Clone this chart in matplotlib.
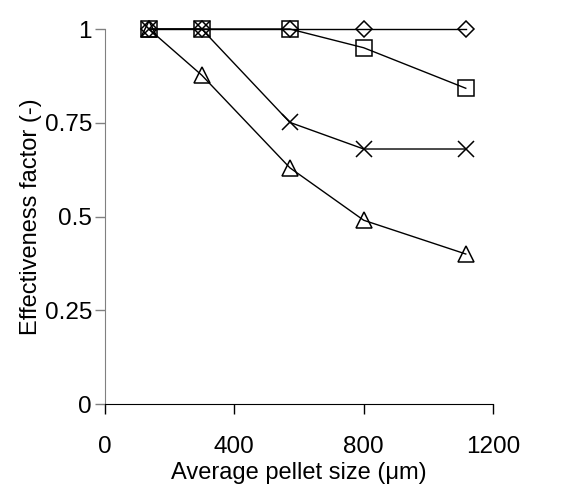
import matplotlib
matplotlib.use("Agg")
import matplotlib.pyplot as plt

plt.rcParams['font.family'] = ['Liberation Sans', 'DejaVu Sans']

pellet_size = [137, 300, 572, 800, 1115]
series_diamond = [1.0, 1.0, 1.0, 1.0, 1.0]
series_square = [1.0, 1.0, 1.0, 0.95, 0.842]
series_cross = [1.0, 1.0, 0.751, 0.68, 0.68]
series_triangle = [1.0, 0.877, 0.63, 0.49, 0.40]

x_ticks = [0, 400, 800, 1200]
y_ticks = [0, 0.25, 0.5, 0.75, 1]
y_tick_labels = ['0', '0.25', '0.5', '0.75', '1']

fig = plt.figure(figsize=(5.68, 4.9), dpi=100)
ax = fig.add_axes([0.184, 0.1755, 0.6845, 0.7653])

common = dict(color='black', linewidth=1.0, markerfacecolor='none',
              markeredgecolor='black', markeredgewidth=1.1, clip_on=False)
ax.plot(pellet_size, series_triangle, marker='^', markersize=12, **common)
ax.plot(pellet_size, series_cross, marker='x', markersize=12, **common)
ax.plot(pellet_size, series_square, marker='s', markersize=11, **common)
ax.plot(pellet_size, series_diamond, marker='D', markersize=7.8, **common)

ax.set_xlim(0, 1200)
ax.set_ylim(0, 1)
ax.set_xticks(x_ticks)
ax.set_yticks(y_ticks)
ax.set_yticklabels(y_tick_labels)

for s in ['top', 'right']:
    ax.spines[s].set_visible(False)
ax.spines['left'].set_color('#808080')
ax.spines['bottom'].set_color('black')
ax.tick_params(axis='both', direction='out', length=7, labelsize=17.5, width=1)
ax.tick_params(axis='y', color='#808080', pad=2)
ax.tick_params(axis='x', pad=16)

ax.set_xlabel('Average pellet size (μm)', fontsize=17, labelpad=3)
ax.set_ylabel('Effectiveness factor (-)', fontsize=17, labelpad=2)

fig.savefig('out.png', dpi=100)
